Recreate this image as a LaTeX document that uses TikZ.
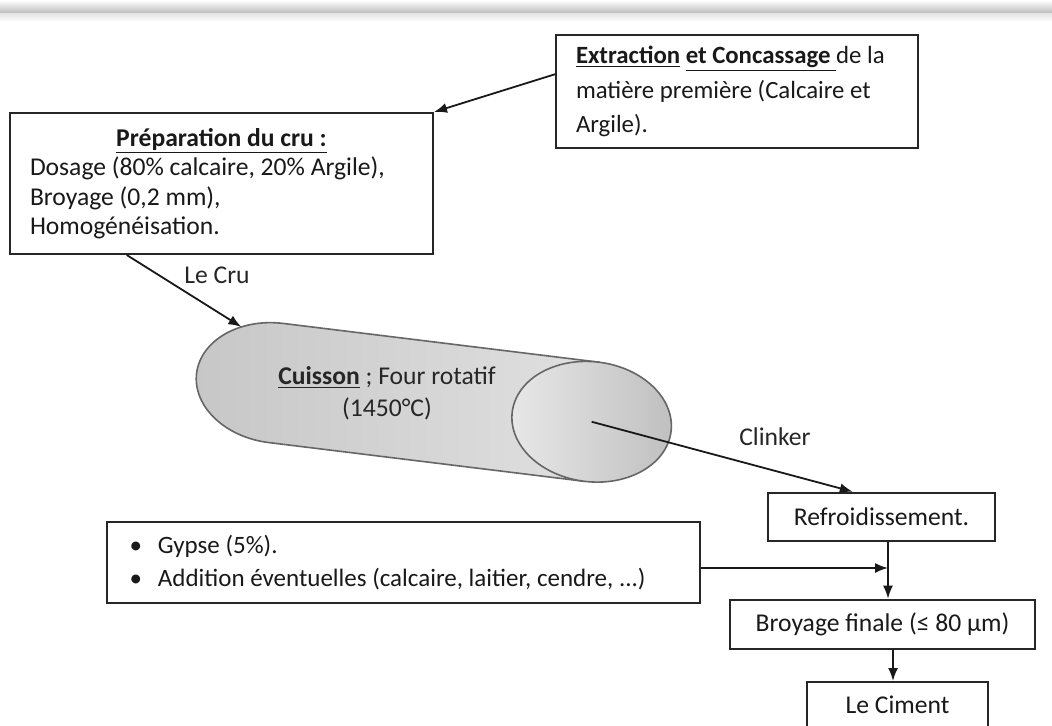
\documentclass[tikz,border=0pt]{standalone}
\usepackage{fontspec}
\setmainfont{Carlito}
\usetikzlibrary{arrows.meta,positioning,calc}
\newcommand{\px}{0.5pt}
\newcommand{\mnode}[6][]{
  \node[box,minimum width=#3*\px,minimum height=#4*\px,#1] (#5) at #2 {#6};
}

\begin{document}
\begin{tikzpicture}[x=\px,y=-\px,>={Latex[length=6.5pt,width=5pt]},
  box/.style={draw=black!85,line width=1pt,fill=white,text=black!90,inner sep=0pt,
    font=\fontsize{12.8}{14.75}\selectfont},
  flow/.style={->,line width=0.9pt,draw=black!90},
  lbl/.style={text=black!85,font=\fontsize{12.8}{16}\selectfont},
  kiln/.style={draw=black!60,line width=0.8pt}]
  \clip (0,0) rectangle (1052,726);
  \fill[white] (0,0) rectangle (1052,726);
  \shade[top color=white,bottom color=black!28] (0,0) rectangle (1052,14);
  \shade[top color=black!10,bottom color=white] (0,14) rectangle (1052,22);

  \mnode[text width=161pt,align=flush left,font=\fontsize{12.4}{17.25}\selectfont]{(737,91.5)}{362}{113}{extr}{\underline{\textbf{Extraction}} \underline{\textbf{et Concassage}\ }de la\\matière première (Calcaire et\\Argile).}
  \mnode[text width=191.5pt,align=flush left]{(221.5,183.5)}{423}{141}{prep}{\makebox[\hsize]{\textbf{\underline{Préparation du cru :}}}\\Dosage (80\% calcaire, 20\% Argile),\\Broyage (0,2 mm),\\Homogénéisation.}

  % four rotatif
  \begin{scope}[shift={(276,383)},rotate=-7]
    \shadedraw[kiln,left color=black!22,right color=black!12] (0,-60) -- (318,-60) -- (318,60) -- (0,60)
      arc[start angle=90,end angle=270,x radius=80,y radius=60] -- cycle;
    \shadedraw[kiln,left color=black!9,right color=black!25] (318,0) ellipse [x radius=80,y radius=60];
    \coordinate (kilnin) at (239:80 and 60);
    \coordinate (kilnout) at (318,0);
  \end{scope}
  \node[lbl,align=center] (cuisson) at (387,393) {\underline{\textbf{Cuisson}} ; Four rotatif\\(1450°C)};

  \node[lbl] (lecru) at (217,275) {Le Cru};
  \node[lbl] (clinker) at (775,437) {Clinker};

  \mnode[line width=1.3pt]{(881.5,517)}{227}{48}{refroid}{Refroidissement.}
  \mnode[text width=274pt,align=flush left,font=\fontsize{12.5}{16.5}\selectfont]{(403.5,562.5)}{593}{81}{gypse}{\textbullet\hspace{8pt}Gypse (5\%).\\\textbullet\hspace{8pt}Addition éventuelles (calcaire, laitier, cendre, ...)}
  \mnode[line width=1.3pt]{(882.5,624.5)}{305}{49}{broyage}{Broyage finale (≤ 80 µm)}
  \mnode{(897.5,705)}{181}{46}{ciment}{Le Ciment}

  \coordinate (extrout) at ($(extr.north west)!0.35!(extr.south west)$);
  \draw[flow] (extrout) -- (prep.north east);
  \coordinate (prepout) at ($(prep.south west)!0.277!(prep.south east)$);
  \draw[flow] (prepout) -- (kilnin);
  \coordinate (refin) at ($(refroid.north west)!0.375!(refroid.north east)$);
  \draw[flow] (kilnout) -- (refin);
  \coordinate (joint) at (888,568);
  \draw[flow] (refroid.south -| joint) -- (broyage.north -| joint);
  \draw[flow] (gypse.east |- joint) -- (joint);
  \coordinate (cimin) at ($(ciment.north)+(-4.5,0)$);
  \draw[flow] (broyage.south -| cimin) -- (cimin);
\end{tikzpicture}
\end{document}
